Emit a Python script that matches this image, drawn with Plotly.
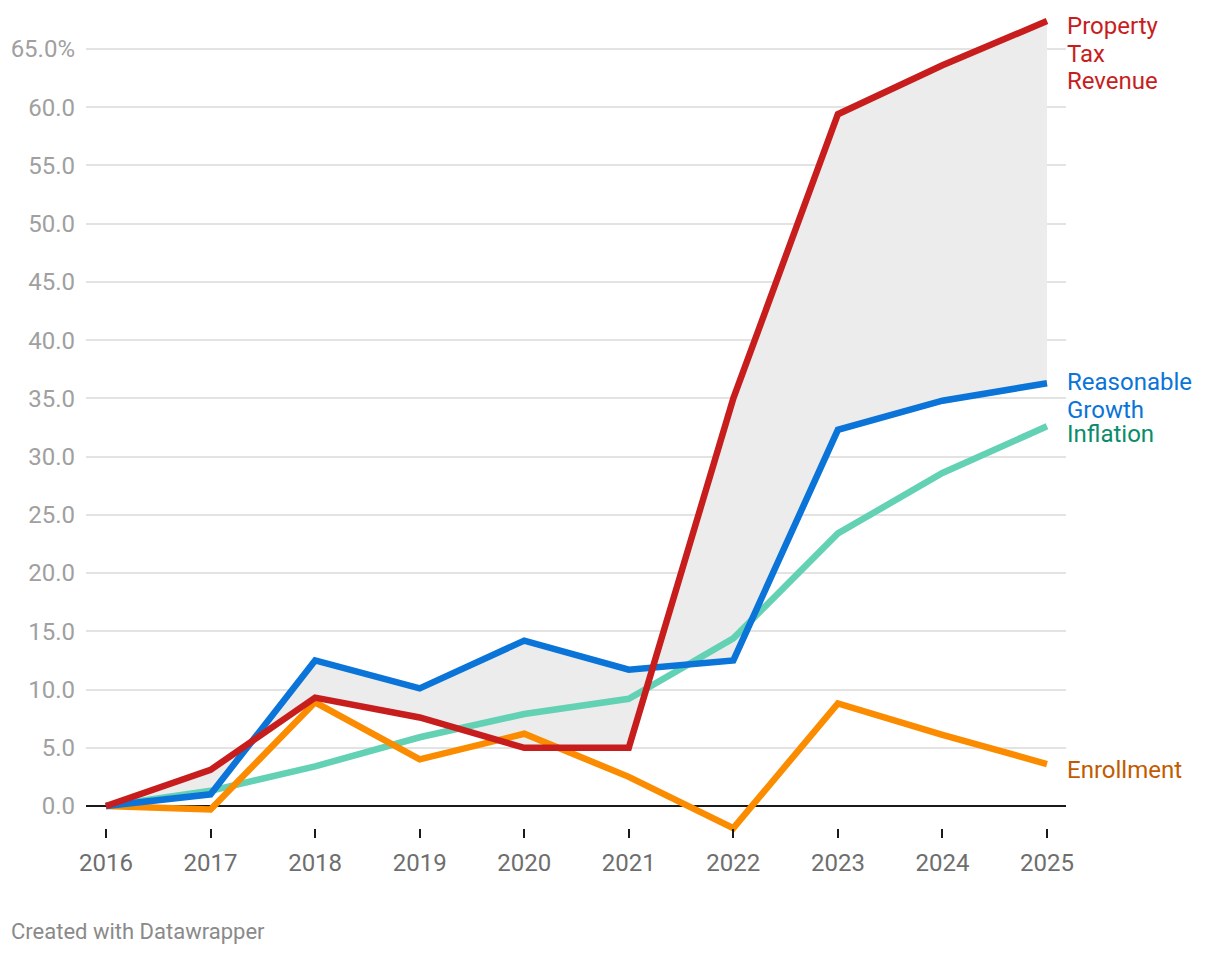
import plotly.graph_objects as go

years = [2016, 2017, 2018, 2019, 2020, 2021, 2022, 2023, 2024, 2025]
property_tax = [0.0, 3.1, 9.3, 7.6, 5.0, 5.0, 35.0, 59.4, 63.6, 67.4]
reasonable_growth = [0.0, 1.0, 12.5, 10.1, 14.2, 11.7, 12.5, 32.3, 34.8, 36.3]
inflation = [0.0, 1.3, 3.4, 5.9, 7.9, 9.2, 14.4, 23.4, 28.6, 32.6]
enrollment = [0.0, -0.3, 8.9, 4.0, 6.2, 2.5, -1.9, 8.8, 6.1, 3.6]

y_tickvals = [0, 5, 10, 15, 20, 25, 30, 35, 40, 45, 50, 55, 60, 65]
y_ticktext = ["0.0", "5.0", "10.0", "15.0", "20.0", "25.0", "30.0", "35.0",
              "40.0", "45.0", "50.0", "55.0", "60.0", "65.0%"]

RED = "#c71e1d"
BLUE = "#0a74d8"
TEAL = "#62d1b4"
ORANGE = "#fb8c00"
FONT = "Roboto"

fig = go.Figure()

# shaded gap between Property Tax Revenue and Reasonable Growth
fig.add_trace(go.Scatter(x=years, y=reasonable_growth, mode="lines",
                         line=dict(width=0, color="rgba(0,0,0,0)"),
                         hoverinfo="skip", showlegend=False))
fig.add_trace(go.Scatter(x=years, y=property_tax, mode="lines",
                         line=dict(width=0, color="rgba(0,0,0,0)"),
                         fill="tonexty", fillcolor="#ececec",
                         hoverinfo="skip", showlegend=False))

for vals, col in [(inflation, TEAL), (enrollment, ORANGE),
                  (reasonable_growth, BLUE), (property_tax, RED)]:
    fig.add_trace(go.Scatter(x=years, y=vals, mode="lines",
                             line=dict(width=6.5, color=col),
                             showlegend=False))

labels = [
    (["Property", "Tax", "Revenue"], property_tax[-1], RED, -5),
    (["Reasonable", "Growth"], reasonable_growth[-1], "#0a74d8", 1),
    (["Inflation"], inflation[-1], "#0a8c6c", -8),
    (["Enrollment"], enrollment[-1], "#c25b00", -6),
]
for lines, yv, col, ys in labels:
    for i, text in enumerate(lines):
        fig.add_annotation(x=years[-1], y=yv, text=text, showarrow=False,
                           xanchor="left", yanchor="middle", align="left",
                           xshift=18, yshift=ys - 27.5 * i,
                           font=dict(family=FONT, size=24, color=col))

fig.add_annotation(xref="paper", yref="paper", x=0, y=0, xshift=-77, yshift=-93,
                   text="Created with Datawrapper", showarrow=False,
                   xanchor="left", yanchor="middle",
                   font=dict(family=FONT, size=22, color="#8a8a8a"))

fig.update_layout(
    width=1212, height=946,
    margin=dict(l=78, r=154, t=2, b=116),
    paper_bgcolor="white", plot_bgcolor="white",
    font=dict(family=FONT),
    xaxis=dict(range=[2015.8087, 2025.1817], tickvals=years,
               ticktext=[str(y) for y in years],
               showgrid=False, zeroline=False, showline=False,
               ticks="inside", ticklen=9, tickwidth=2, tickcolor="#1a1a1a",
               tickfont=dict(family=FONT, size=24, color="#6e6e6e"),
               ticklabelstandoff=8),
    yaxis=dict(range=[-2.75, 68.35], tickvals=y_tickvals, ticktext=y_ticktext,
               showgrid=True, gridcolor="#e3e3e3", gridwidth=1.5,
               zeroline=True, zerolinecolor="#1a1a1a", zerolinewidth=2,
               showline=False, ticks="",
               tickfont=dict(family=FONT, size=24, color="#a0a0a0"),
               ticklabelstandoff=10),
)

fig.write_html("out.html")
